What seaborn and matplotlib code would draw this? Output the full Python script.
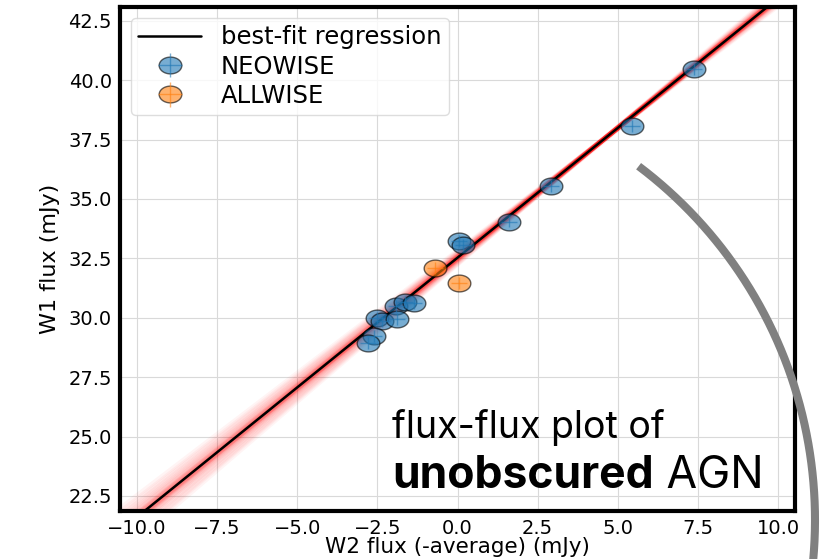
import numpy as np
import pandas as pd
import matplotlib
matplotlib.use("Agg")
import matplotlib.pyplot as plt
import seaborn as sns
from matplotlib.path import Path
from matplotlib.markers import MarkerStyle
from matplotlib.lines import Line2D
from matplotlib.legend_handler import HandlerTuple

# ---------------- data ----------------
neo_x = [7.38, 5.44, 2.92, 1.60, 0.06, 0.18, -1.93, -1.65, -1.36, -2.51, -2.35, -1.88, -2.61, -2.80]
neo_y = [40.48, 38.07, 35.55, 34.05, 33.23, 33.06, 30.50, 30.68, 30.64, 29.98, 29.88, 29.94, 29.24, 28.93]
all_x = [-0.69, 0.06]
all_y = [32.11, 31.45]
err_x = 0.25
err_y = 0.25

fit_slope = 1.092
fit_intercept = 32.53

sample_slopes = [1.092, 1.081, 1.104, 1.087, 1.099, 1.072, 1.113, 1.090, 1.095, 1.062,
                 1.124, 1.084, 1.101, 1.074, 1.110, 1.093, 1.052, 1.134, 1.089, 1.097,
                 1.078, 1.106, 1.086, 1.098, 1.066, 1.118, 1.094, 1.083, 1.102, 1.091,
                 1.040, 1.145, 1.088, 1.096, 1.070, 1.114, 1.058, 1.128, 1.085, 1.100,
                 1.030, 1.155, 1.046, 1.140]
sample_intercepts = [32.53, 32.58, 32.47, 32.55, 32.50, 32.62, 32.44, 32.52, 32.49, 32.68,
                     32.38, 32.56, 32.48, 32.61, 32.43, 32.54, 32.72, 32.33, 32.57, 32.51,
                     32.59, 32.46, 32.61, 32.42, 32.66, 32.41, 32.50, 32.57, 32.53, 32.48,
                     32.78, 32.28, 32.54, 32.52, 32.65, 32.40, 32.70, 32.36, 32.56, 32.49,
                     32.82, 32.25, 32.74, 32.31]

xticks = [-10.0, -7.5, -5.0, -2.5, 0.0, 2.5, 5.0, 7.5, 10.0]
yticks = [22.5, 25.0, 27.5, 30.0, 32.5, 35.0, 37.5, 40.0, 42.5]
x_label = "W2 flux (-average) (mJy)"
y_label = "W1 flux (mJy)"
label_fit = "best-fit regression"
label_neo = "NEOWISE"
label_all = "ALLWISE"

# ---------------- style ----------------
sns.set_theme(style="whitegrid")
plt.rcParams["font.family"] = ["DejaVu Sans"]

blue = "#1f77b4"
orange = "#ff7f0e"

fig = plt.figure(figsize=(8.21, 5.59), dpi=100)
ax = fig.add_axes([0.1462, 0.0864, 0.8222, 0.9011])
ax.set_facecolor("white")

# ellipse marker (wider than tall)
t = np.linspace(0, 2 * np.pi, 80)
ell = MarkerStyle(Path(np.column_stack([1.35 * np.cos(t), np.sin(t)]), closed=True))

# posterior sample lines
line_grid = [-11.0, 11.0]
rows = []
for i, (m, c) in enumerate(zip(sample_slopes, sample_intercepts)):
    for xv in line_grid:
        rows.append((i, xv, m * xv + c))
samples = pd.DataFrame(rows, columns=["draw", "x", "y"])
sns.lineplot(data=samples, x="x", y="y", units="draw", estimator=None,
             color="red", alpha=0.045, lw=3.5, ax=ax, legend=False, zorder=2)

fit_df = pd.DataFrame({"x": line_grid,
                       "y": [fit_slope * xv + fit_intercept for xv in line_grid]})
sns.lineplot(data=fit_df, x="x", y="y", color="black", lw=1.8, ax=ax,
             legend=False, zorder=2.5)

# points
for xs, ys, col in [(neo_x, neo_y, blue), (all_x, all_y, orange)]:
    sns.scatterplot(x=xs, y=ys, marker=ell, s=266, color=col, edgecolor="black",
                    linewidth=1.0, alpha=0.6, ax=ax, legend=False, zorder=3)
eb_neo = ax.errorbar(neo_x, neo_y, xerr=err_x, yerr=err_y, fmt="none",
                     ecolor=blue, elinewidth=1, alpha=0.6, zorder=4)
eb_all = ax.errorbar(all_x, all_y, xerr=err_x, yerr=err_y, fmt="none",
                     ecolor=orange, elinewidth=1, alpha=0.6, zorder=4)

# axes
ax.set_xlim(-10.53, 10.53)
ax.set_ylim(21.88, 43.08)
ax.set_xticks(xticks)
ax.set_yticks(yticks)
ax.grid(True, color="#d9d9d9", lw=0.8)
ax.tick_params(axis="both", which="major", length=4, width=1, color="black",
               labelcolor="black", labelsize=14, direction="out", pad=2)
for s in ax.spines.values():
    s.set_color("black")
    s.set_linewidth(3)
    s.set_zorder(5)
ax.set_xlabel(x_label, fontsize=15.5, color="black", labelpad=-1)
ax.set_ylabel(y_label, fontsize=16, color="black", labelpad=6)

# legend
h_fit = Line2D([], [], color="black", lw=1.8)
h_neo = (Line2D([], [], ls="none", marker=ell, ms=16.3, mfc=blue, mec="black",
                alpha=0.6), eb_neo)
h_all = (Line2D([], [], ls="none", marker=ell, ms=16.3, mfc=orange, mec="black",
                alpha=0.6), eb_all)
leg = ax.legend([h_fit, h_neo, h_all], [label_fit, label_neo, label_all],
                handler_map={tuple: HandlerTuple(ndivide=1)},
                loc="upper left", fontsize=17.5, frameon=True, framealpha=0.8,
                edgecolor="#d5d5d5", fancybox=True, handlelength=2.6,
                borderaxespad=0.45, labelspacing=0.22, borderpad=0.3)
leg.set_zorder(6)
for txt in leg.get_texts():
    txt.set_color("black")

# annotation text
ann_font = ["Inter", "DejaVu Sans"]
ax.text(0.403, 0.144, "flux-flux plot of", transform=ax.transAxes, fontsize=27,
        family=ann_font, color="black", va="baseline", ha="left", zorder=7)
t2 = ax.text(0.403, 0.045, "unobscured", transform=ax.transAxes, fontsize=32,
             family=ann_font, fontweight="bold", color="black", va="baseline",
             ha="left", zorder=7)
ax.annotate(" AGN", xy=(1, 0), xycoords=t2, fontsize=32, family=ann_font,
            color="black", va="bottom", ha="left", zorder=7)

# decorative grey arc
theta = np.deg2rad(np.linspace(-10, 53, 200))
arc_x = 3.72 + 4.43 * np.cos(theta)
arc_y = 0.39 + 4.43 * np.sin(theta)
fig.add_artist(Line2D(arc_x, arc_y, transform=fig.dpi_scale_trans, color="#808080",
                      lw=5.8, solid_capstyle="butt", zorder=10))

fig.savefig("out.png", dpi=100)
